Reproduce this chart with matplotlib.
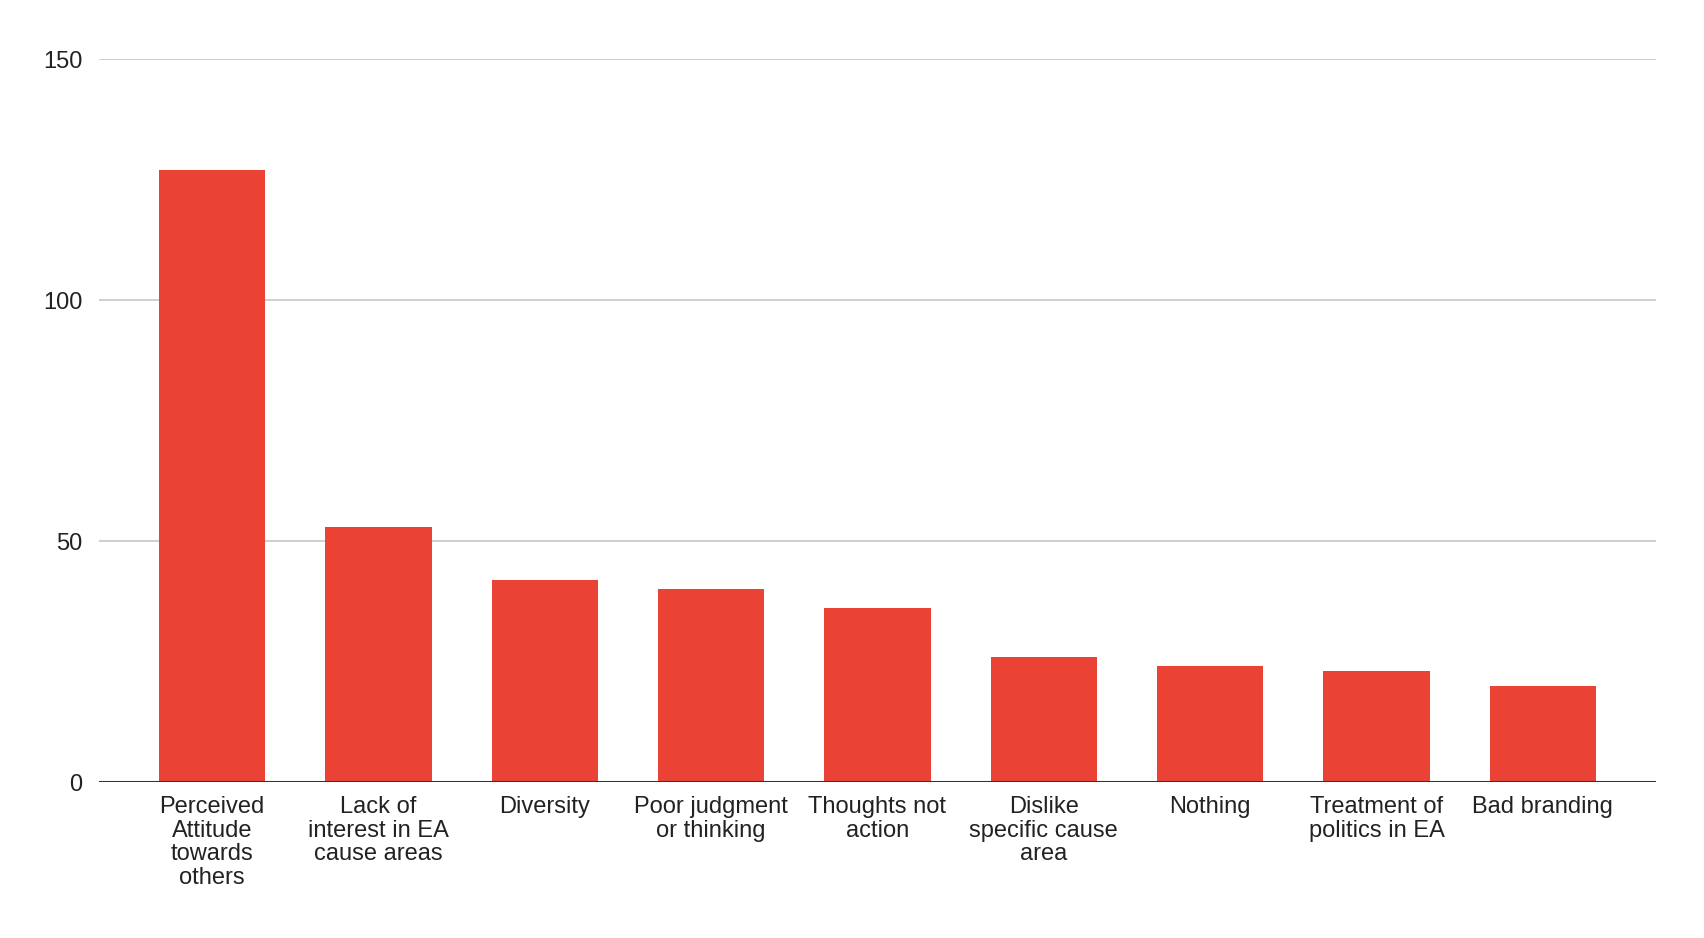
import matplotlib
matplotlib.use("Agg")
import matplotlib.pyplot as plt

categories = [
    "Perceived\nAttitude\ntowards\nothers",
    "Lack of\ninterest in EA\ncause areas",
    "Diversity",
    "Poor judgment\nor thinking",
    "Thoughts not\naction",
    "Dislike\nspecific cause\narea",
    "Nothing",
    "Treatment of\npolitics in EA",
    "Bad branding",
]
values = [127, 53, 42, 40, 36, 26, 24, 23, 20]
yticks = [0, 50, 100, 150]

plt.rcParams['font.family'] = ['Liberation Sans', 'DejaVu Sans']

fig = plt.figure(figsize=(17.04, 9.38), dpi=100)
ax = fig.add_axes([0.0581, 0.1663, 0.9718 - 0.0581, 0.9371 - 0.1663])

x = list(range(len(categories)))
ax.bar(x, values, width=0.64, color="#ea4335", zorder=3)

ax.set_xlim(-0.68, len(categories) - 1 + 0.68)
ax.set_ylim(0, 150)
ax.set_yticks(yticks)
ax.set_yticklabels([str(v) for v in yticks], fontsize=17, color="#222222")
ax.set_xticks(x)
ax.set_xticklabels(categories, fontsize=17, color="#222222", linespacing=1.1)

for v in yticks[1:]:
    ax.axhline(v, color="#cccccc", lw=1.3, zorder=1)
ax.axhline(0, color="#333333", lw=2.2, zorder=4)

for s in ax.spines.values():
    s.set_visible(False)
ax.tick_params(axis='both', length=0)
ax.tick_params(axis='y', pad=12)
ax.tick_params(axis='x', pad=10)

fig.savefig("out.png", dpi=100, facecolor="white")
